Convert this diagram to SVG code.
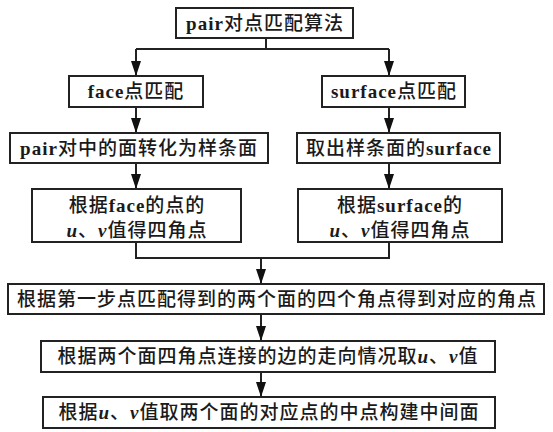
<svg xmlns="http://www.w3.org/2000/svg" width="553" height="432" viewBox="0 0 553 432">
<style>
.box{fill:#fff;stroke:#222;stroke-width:2}
.t{font-family:"Liberation Serif","Noto Sans CJK SC",serif;font-size:19px;font-weight:500;letter-spacing:1px;fill:#1a1a1a;text-anchor:middle}
.l{font-weight:bold}
.i{font-weight:bold;font-style:italic}
.c{fill:none;stroke:#222;stroke-width:2}
</style>
<defs>
<marker id="ah" viewBox="0 0 15 10" refX="15" refY="5" markerWidth="15" markerHeight="10" markerUnits="userSpaceOnUse" orient="auto">
<path d="M0,0 L15,5 L0,10 z" fill="#111"/>
</marker>
</defs>
<rect width="553" height="432" fill="#fff"/>
<g id="connectors">
<path class="c" d="M266,38 V49 M136,49 H389"/>
<path class="c" d="M136,49 V76" marker-end="url(#ah)"/>
<path class="c" d="M389,49 V76" marker-end="url(#ah)"/>
<path class="c" d="M136,107 V133" marker-end="url(#ah)"/>
<path class="c" d="M389,107 V133" marker-end="url(#ah)"/>
<path class="c" d="M136,163 V189" marker-end="url(#ah)"/>
<path class="c" d="M389,163 V189" marker-end="url(#ah)"/>
<path class="c" d="M136,242 V258 H389 V242"/>
<path class="c" d="M261,258 V284" marker-end="url(#ah)"/>
<path class="c" d="M261,314 V341" marker-end="url(#ah)"/>
<path class="c" d="M261,372 V397" marker-end="url(#ah)"/>
</g>
<g id="n1">
<rect class="box" x="176" y="8" width="177" height="30"/>
<text class="t" x="265" y="30"><tspan class="l">pair</tspan>对点匹配算法</text>
</g>
<g id="n2">
<rect class="box" x="69" y="76" width="134" height="31"/>
<text class="t" x="136" y="98"><tspan class="l">face</tspan>点匹配</text>
</g>
<g id="n3">
<rect class="box" x="322" y="76" width="143" height="31"/>
<text class="t" x="394" y="98"><tspan class="l">surface</tspan>点匹配</text>
</g>
<g id="n4">
<rect class="box" x="10" y="133" width="258" height="30"/>
<text class="t" x="139" y="155"><tspan class="l">pair</tspan>对中的面转化为样条面</text>
</g>
<g id="n5">
<rect class="box" x="297" y="133" width="203" height="30"/>
<text class="t" x="399" y="155">取出样条面的<tspan class="l">surface</tspan></text>
</g>
<g id="n6">
<rect class="box" x="32" y="189" width="209" height="53"/>
<text class="t" x="137" y="212">根据<tspan class="l">face</tspan>的点的</text>
<text class="t" x="137" y="237"><tspan class="i">u</tspan>、<tspan class="i">v</tspan>值得四角点</text>
</g>
<g id="n7">
<rect class="box" x="298" y="189" width="204" height="53"/>
<text class="t" x="400" y="212">根据<tspan class="l">surface</tspan>的</text>
<text class="t" x="400" y="237"><tspan class="i">u</tspan>、<tspan class="i">v</tspan>值得四角点</text>
</g>
<g id="n8">
<rect class="box" x="8" y="284" width="536" height="30"/>
<text class="t" x="277" y="306">根据第一步点匹配得到的两个面的四个角点得到对应的角点</text>
</g>
<g id="n9">
<rect class="box" x="41" y="341" width="454" height="31"/>
<text class="t" x="268" y="363">根据两个面四角点连接的边的走向情况取<tspan class="i">u</tspan>、<tspan class="i">v</tspan>值</text>
</g>
<g id="n10">
<rect class="box" x="43" y="397" width="452" height="31"/>
<text class="t" x="269" y="419">根据<tspan class="i">u</tspan>、<tspan class="i">v</tspan>值取两个面的对应点的中点构建中间面</text>
</g>
</svg>
